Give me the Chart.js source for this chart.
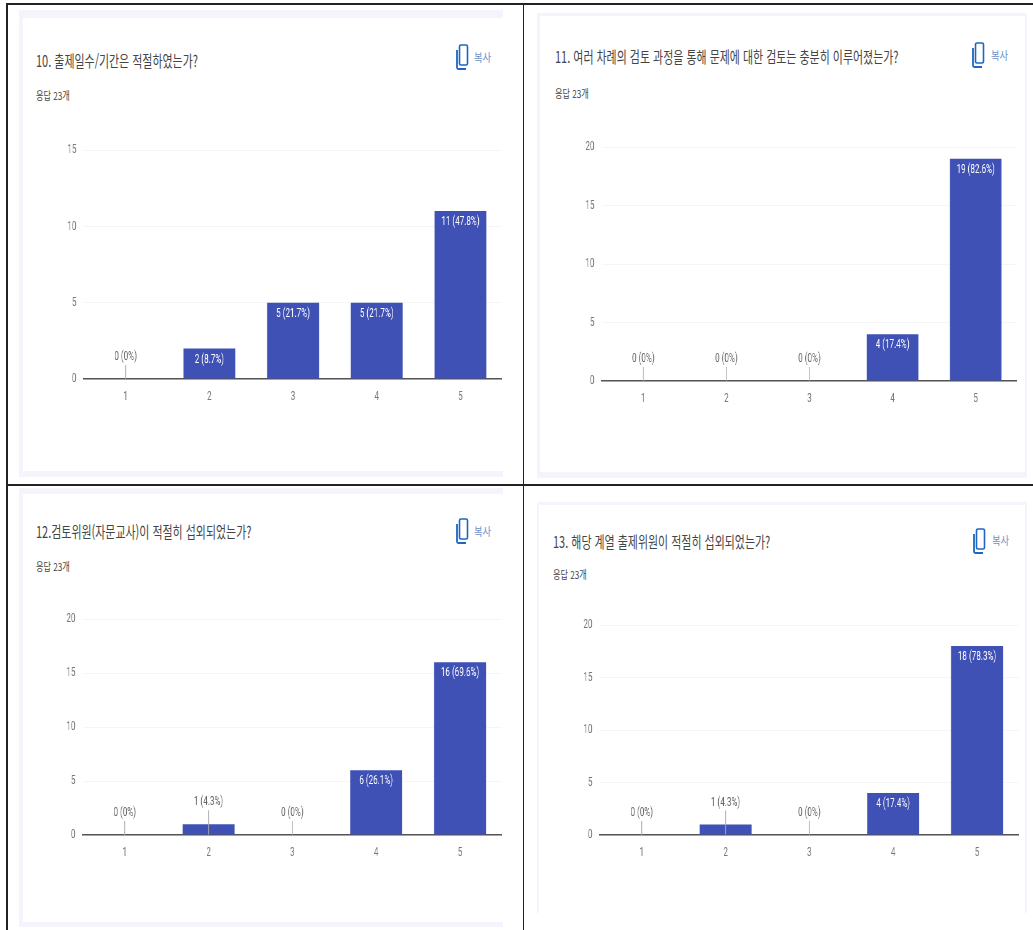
<!DOCTYPE html>
<html lang="ko">
<head>
<meta charset="utf-8">
<title>설문 결과</title>
<script src="https://cdn.jsdelivr.net/npm/chart.js@4"></script>
<style>
    html, body { margin: 0; padding: 0; background: #fff; }
    body { position: relative; width: 1033px; height: 930px; overflow: hidden; }
    .rule { position: absolute; background: #222; }
    .card { position: absolute; box-sizing: border-box; background: #fff; border: 0 solid #f3f4fc; }
    .txt {
        position: absolute;
        white-space: nowrap;
        transform-origin: left center;
        font-family: "Noto Sans CJK KR", sans-serif;
        line-height: 20px;
        height: 20px;
    }
    .question { font-size: 16px; color: #444; }
    .answers { font-size: 11px; color: #444; }
    .copy { font-size: 11px; color: #6c8fc6; }
    canvas { position: absolute; transform-origin: left top; }
    svg { position: absolute; }
</style>
</head>
<body>
<script>
const categories = ['1', '2', '3', '4', '5'];
const questionTitles = [
    '10. 출제일수/기간은 적절하였는가?',
    '11. 여러 차례의 검토 과정을 통해 문제에 대한 검토는 충분히 이루어졌는가?',
    '12.검토위원(자문교사)이 적절히 섭외되었는가?',
    '13. 해당 계열 출제위원이 적절히 섭외되었는가?'
];
const answerCount = 23;
const values10 = [0, 2, 5, 5, 11];
const values11 = [0, 0, 0, 4, 19];
const values12 = [0, 1, 0, 6, 16];
const values13 = [0, 1, 0, 4, 18];
const axisMax = [15, 20, 20, 20];

// text and canvases are drawn wide, then squeezed horizontally by this factor
const SQUEEZE = 0.62;
const AXIS_W = 40;
const AXIS_H = 40;
const PAD_TOP = 12;

const layouts = [
    { plot: [84, 149.5, 419, 229.5], card: [19, 10, 484, 467, 8, 4, 6, 0], title: [36, 60, 0.685], answers: [36, 95], icon: [456, 44], copy: [474, 57] },
    { plot: [601.5, 147, 416, 234.5], card: [537, 13, 490, 465, 3, 3, 6, 2], title: [555, 56, 0.685], answers: [555, 93], icon: [972, 42], copy: [991, 55] },
    { plot: [83, 619, 419.5, 216], card: [19, 488, 484, 439, 6, 4, 5, 0], title: [36, 531, 0.685], answers: [36, 566], icon: [456, 518], copy: [474, 531] },
    { plot: [599.5, 625, 419.5, 210.5], card: [537, 502, 490, 411, 3, 2, 0, 2], title: [553, 541, 0.685], answers: [553, 574], icon: [973, 528], copy: [992, 540] }
];
const seriesByPanel = [values10, values11, values12, values13];

function addRule(x, y, w, h) {
    const rule = document.createElement('div');
    rule.className = 'rule';
    rule.style.cssText = `left:${x}px;top:${y}px;width:${w}px;height:${h}px`;
    document.body.appendChild(rule);
}

function addText(cls, text, x, centerY, scale) {
    const el = document.createElement('div');
    el.className = 'txt ' + cls;
    el.textContent = text;
    el.style.left = x + 'px';
    el.style.top = (centerY - 10) + 'px';
    el.style.transform = `scaleX(${scale})`;
    document.body.appendChild(el);
}

function addCard([x, y, w, h, top, left, bottom, right]) {
    const card = document.createElement('div');
    card.className = 'card';
    card.style.cssText = `left:${x}px;top:${y}px;width:${w}px;height:${h}px;` +
        `border-top-width:${top}px;border-left-width:${left}px;border-bottom-width:${bottom}px;border-right-width:${right}px`;
    document.body.appendChild(card);
}

function addCopyIcon(x, y) {
    const ns = 'http://www.w3.org/2000/svg';
    const svg = document.createElementNS(ns, 'svg');
    svg.setAttribute('width', 14);
    svg.setAttribute('height', 26);
    svg.style.left = x + 'px';
    svg.style.top = y + 'px';
    svg.innerHTML = '<rect x="3.5" y="1" width="8" height="20" rx="1.5" fill="none" stroke="#1f66c4" stroke-width="1.6"/>' +
        '<path d="M1 6 V23.5 Q1 25 2.5 25 H10" fill="none" stroke="#1f66c4" stroke-width="1.8"/>';
    document.body.appendChild(svg);
}

// count and share of answers, as printed on each bar
function barLabel(value) {
    return `${value} (${+(value / answerCount * 100).toFixed(1)}%)`;
}

const barLabelPlugin = {
    id: 'barLabels',
    afterDatasetsDraw(chart) {
        const ctx = chart.ctx;
        const values = chart.data.datasets[0].data;
        ctx.save();
        ctx.font = '13px Roboto';
        ctx.textAlign = 'center';
        ctx.textBaseline = 'middle';
        chart.getDatasetMeta(0).data.forEach((bar, i) => {
            const value = values[i];
            if (value >= 2) {
                ctx.fillStyle = '#fff';
                ctx.fillText(barLabel(value), bar.x, bar.y + 11);
            } else {
                ctx.strokeStyle = '#aaa';
                ctx.lineWidth = 1.4;
                ctx.beginPath();
                ctx.moveTo(bar.x, bar.base);
                ctx.lineTo(bar.x, bar.y - 14);
                ctx.stroke();
                ctx.fillStyle = '#666';
                ctx.fillText(barLabel(value), bar.x, bar.y - 22);
            }
        });
        ctx.restore();
    }
};

function buildPanel(index) {
    const layout = layouts[index];
    const [plotX, plotY, plotW, plotH] = layout.plot;

    addCard(layout.card);
    addText('question', questionTitles[index], layout.title[0], layout.title[1], layout.title[2]);
    addText('answers', `응답 ${answerCount}개`, layout.answers[0], layout.answers[1], 0.74);
    addCopyIcon(layout.icon[0], layout.icon[1]);
    addText('copy', '복사', layout.copy[0], layout.copy[1], 0.85);

    const canvas = document.createElement('canvas');
    const cssW = AXIS_W + plotW / SQUEEZE;
    const cssH = PAD_TOP + plotH + AXIS_H;
    canvas.style.left = (plotX - AXIS_W * SQUEEZE) + 'px';
    canvas.style.top = (plotY - PAD_TOP) + 'px';
    canvas.style.transform = `scaleX(${SQUEEZE})`;
    canvas.width = cssW;
    canvas.height = cssH;
    document.body.appendChild(canvas);

    new Chart(canvas, {
        type: 'bar',
        data: {
            labels: categories,
            datasets: [{
                data: seriesByPanel[index],
                backgroundColor: '#3f51b5',
                barPercentage: 0.62,
                categoryPercentage: 1
            }]
        },
        options: {
            responsive: false,
            animation: false,
            layout: { padding: { top: PAD_TOP, left: 0, right: 0, bottom: 0 } },
            plugins: { legend: { display: false }, title: { display: false }, tooltip: { enabled: false } },
            scales: {
                x: {
                    afterFit: scale => { scale.height = AXIS_H; scale.paddingLeft = 0; scale.paddingRight = 0; },
                    grid: { display: false, drawTicks: false },
                    border: { color: '#555', width: 1.6 },
                    ticks: { color: '#777', padding: 10, maxRotation: 0, font: { family: 'Roboto', size: 13 } }
                },
                y: {
                    min: 0,
                    max: axisMax[index],
                    // the plot box is fixed, so tick labels must not reserve any margin
                    afterFit: scale => { scale.width = AXIS_W; scale.paddingTop = 0; scale.paddingBottom = 0; },
                    grid: { color: '#f5f5f5', lineWidth: 1, drawTicks: false },
                    border: { display: false },
                    ticks: { stepSize: 5, color: '#777', padding: 12, font: { family: 'Roboto', size: 13 } }
                }
            }
        },
        plugins: [barLabelPlugin]
    });
}

layouts.forEach((layout, i) => buildPanel(i));

// table lines around the four panels
addRule(6, 3, 1027, 2);
addRule(6, 3, 1.5, 927);
addRule(523, 3, 1, 927);
addRule(6, 484, 1027, 1.5);
</script>
</body>
</html>
